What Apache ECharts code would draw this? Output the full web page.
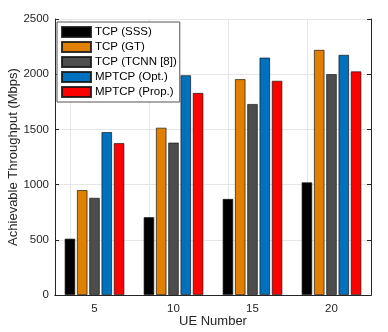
<!DOCTYPE html>
<html>
<head>
<meta charset="utf-8">
<script src="https://cdn.jsdelivr.net/npm/echarts@6/dist/echarts.min.js"></script>
<style>
  html, body { margin: 0; padding: 0; background: #fff; }
  #chart { width: 388px; height: 332px; }
</style>
</head>
<body>
<div id="chart"></div>
<script>
// data
const ueNumbers = ["5", "10", "15", "20"];
const seriesNames = ["TCP (SSS)", "TCP (GT)", "TCP (TCNN [8])", "MPTCP (Opt.)", "MPTCP (Prop.)"];
const tcpSSS = [510, 705, 870, 1020];
const tcpGT = [950, 1515, 1955, 2220];
const tcpTCNN = [880, 1380, 1730, 2000];
const mptcpOpt = [1475, 1990, 2150, 2175];
const mptcpProp = [1375, 1830, 1940, 2025];
const colors = ["#000000", "#E07F00", "#4D4D4D", "#0072BD", "#FF0000"];

const yTicks = { min: 0, max: 2500, interval: 500 };
const font = "Liberation Sans, Arial, Helvetica, sans-serif";
const axisColor = "#262626";
const gridColor = "#e6e6e6";

const chart = echarts.init(document.getElementById("chart"));

const values = [tcpSSS, tcpGT, tcpTCNN, mptcpOpt, mptcpProp];

const option = {
    animation: false,
    backgroundColor: "#fff",
    textStyle: { fontFamily: font },
    grid: { left: 55, right: 17, top: 19, bottom: 37, outerBoundsMode: "none" },
    legend: {
        orient: "vertical",
        left: 57,
        top: 22,
        padding: [4, 3, 4, 4],
        itemWidth: 29,
        itemHeight: 10,
        itemGap: 3,
        icon: "rect",
        backgroundColor: "#fff",
        borderColor: "#555",
        borderWidth: 1,
        borderRadius: 0,
        textStyle: { fontFamily: font, fontSize: 11.5, color: "#000", padding: [0, 0, 0, -1] },
        data: seriesNames,
    },
    xAxis: [
        {
            type: "category",
            data: ueNumbers,
            name: "UE Number",
            nameLocation: "middle",
            nameMoveOverlap: false,
            nameGap: 20,
            nameTextStyle: { fontFamily: font, fontSize: 13, color: axisColor },
            axisLine: { lineStyle: { color: axisColor } },
            axisTick: { inside: true, alignWithLabel: true, length: 4, lineStyle: { color: axisColor } },
            axisLabel: { margin: 8, fontFamily: font, fontSize: 11.5, color: axisColor },
            splitLine: { show: false },
        },
        {
            type: "category",
            data: ueNumbers,
            position: "top",
            axisLine: { lineStyle: { color: axisColor } },
            axisTick: { inside: true, alignWithLabel: true, length: 4, lineStyle: { color: axisColor } },
            axisLabel: { show: false },
            splitLine: { show: false },
        },
    ],
    yAxis: [
        {
            type: "value",
            ...yTicks,
            name: "Achievable Throughput (Mbps)",
            nameLocation: "middle",
            nameMoveOverlap: false,
            nameGap: 35,
            nameTextStyle: { fontFamily: font, fontSize: 13, color: axisColor },
            axisLine: { show: true, lineStyle: { color: axisColor } },
            axisTick: { show: true, inside: true, length: 4, lineStyle: { color: axisColor } },
            axisLabel: { margin: 6, fontFamily: font, fontSize: 11.5, color: axisColor, formatter: (v) => String(v) },
            splitLine: { show: true, lineStyle: { color: gridColor } },
        },
        {
            type: "value",
            ...yTicks,
            position: "right",
            axisLine: { show: true, lineStyle: { color: axisColor } },
            axisTick: { show: true, inside: true, length: 4, lineStyle: { color: axisColor } },
            axisLabel: { show: false },
            splitLine: { show: false },
        },
    ],
    series: seriesNames.map((name, i) => ({
        name: name,
        type: "bar",
        data: values[i],
        barWidth: 10.5,
        barGap: "17%",
        itemStyle: {
            color: colors[i],
            borderColor: "rgba(20,20,20,0.85)",
            borderWidth: 0.8,
        },
        // vertical grid lines at the category ticks
        markLine: i === 0 ? {
            silent: true,
            symbol: "none",
            z: 0,
            label: { show: false },
            lineStyle: { color: gridColor, type: "solid", width: 1 },
            data: ueNumbers.map((u) => ({ xAxis: u })),
        } : undefined,
    })),
};

chart.setOption(option);
</script>
</body>
</html>
